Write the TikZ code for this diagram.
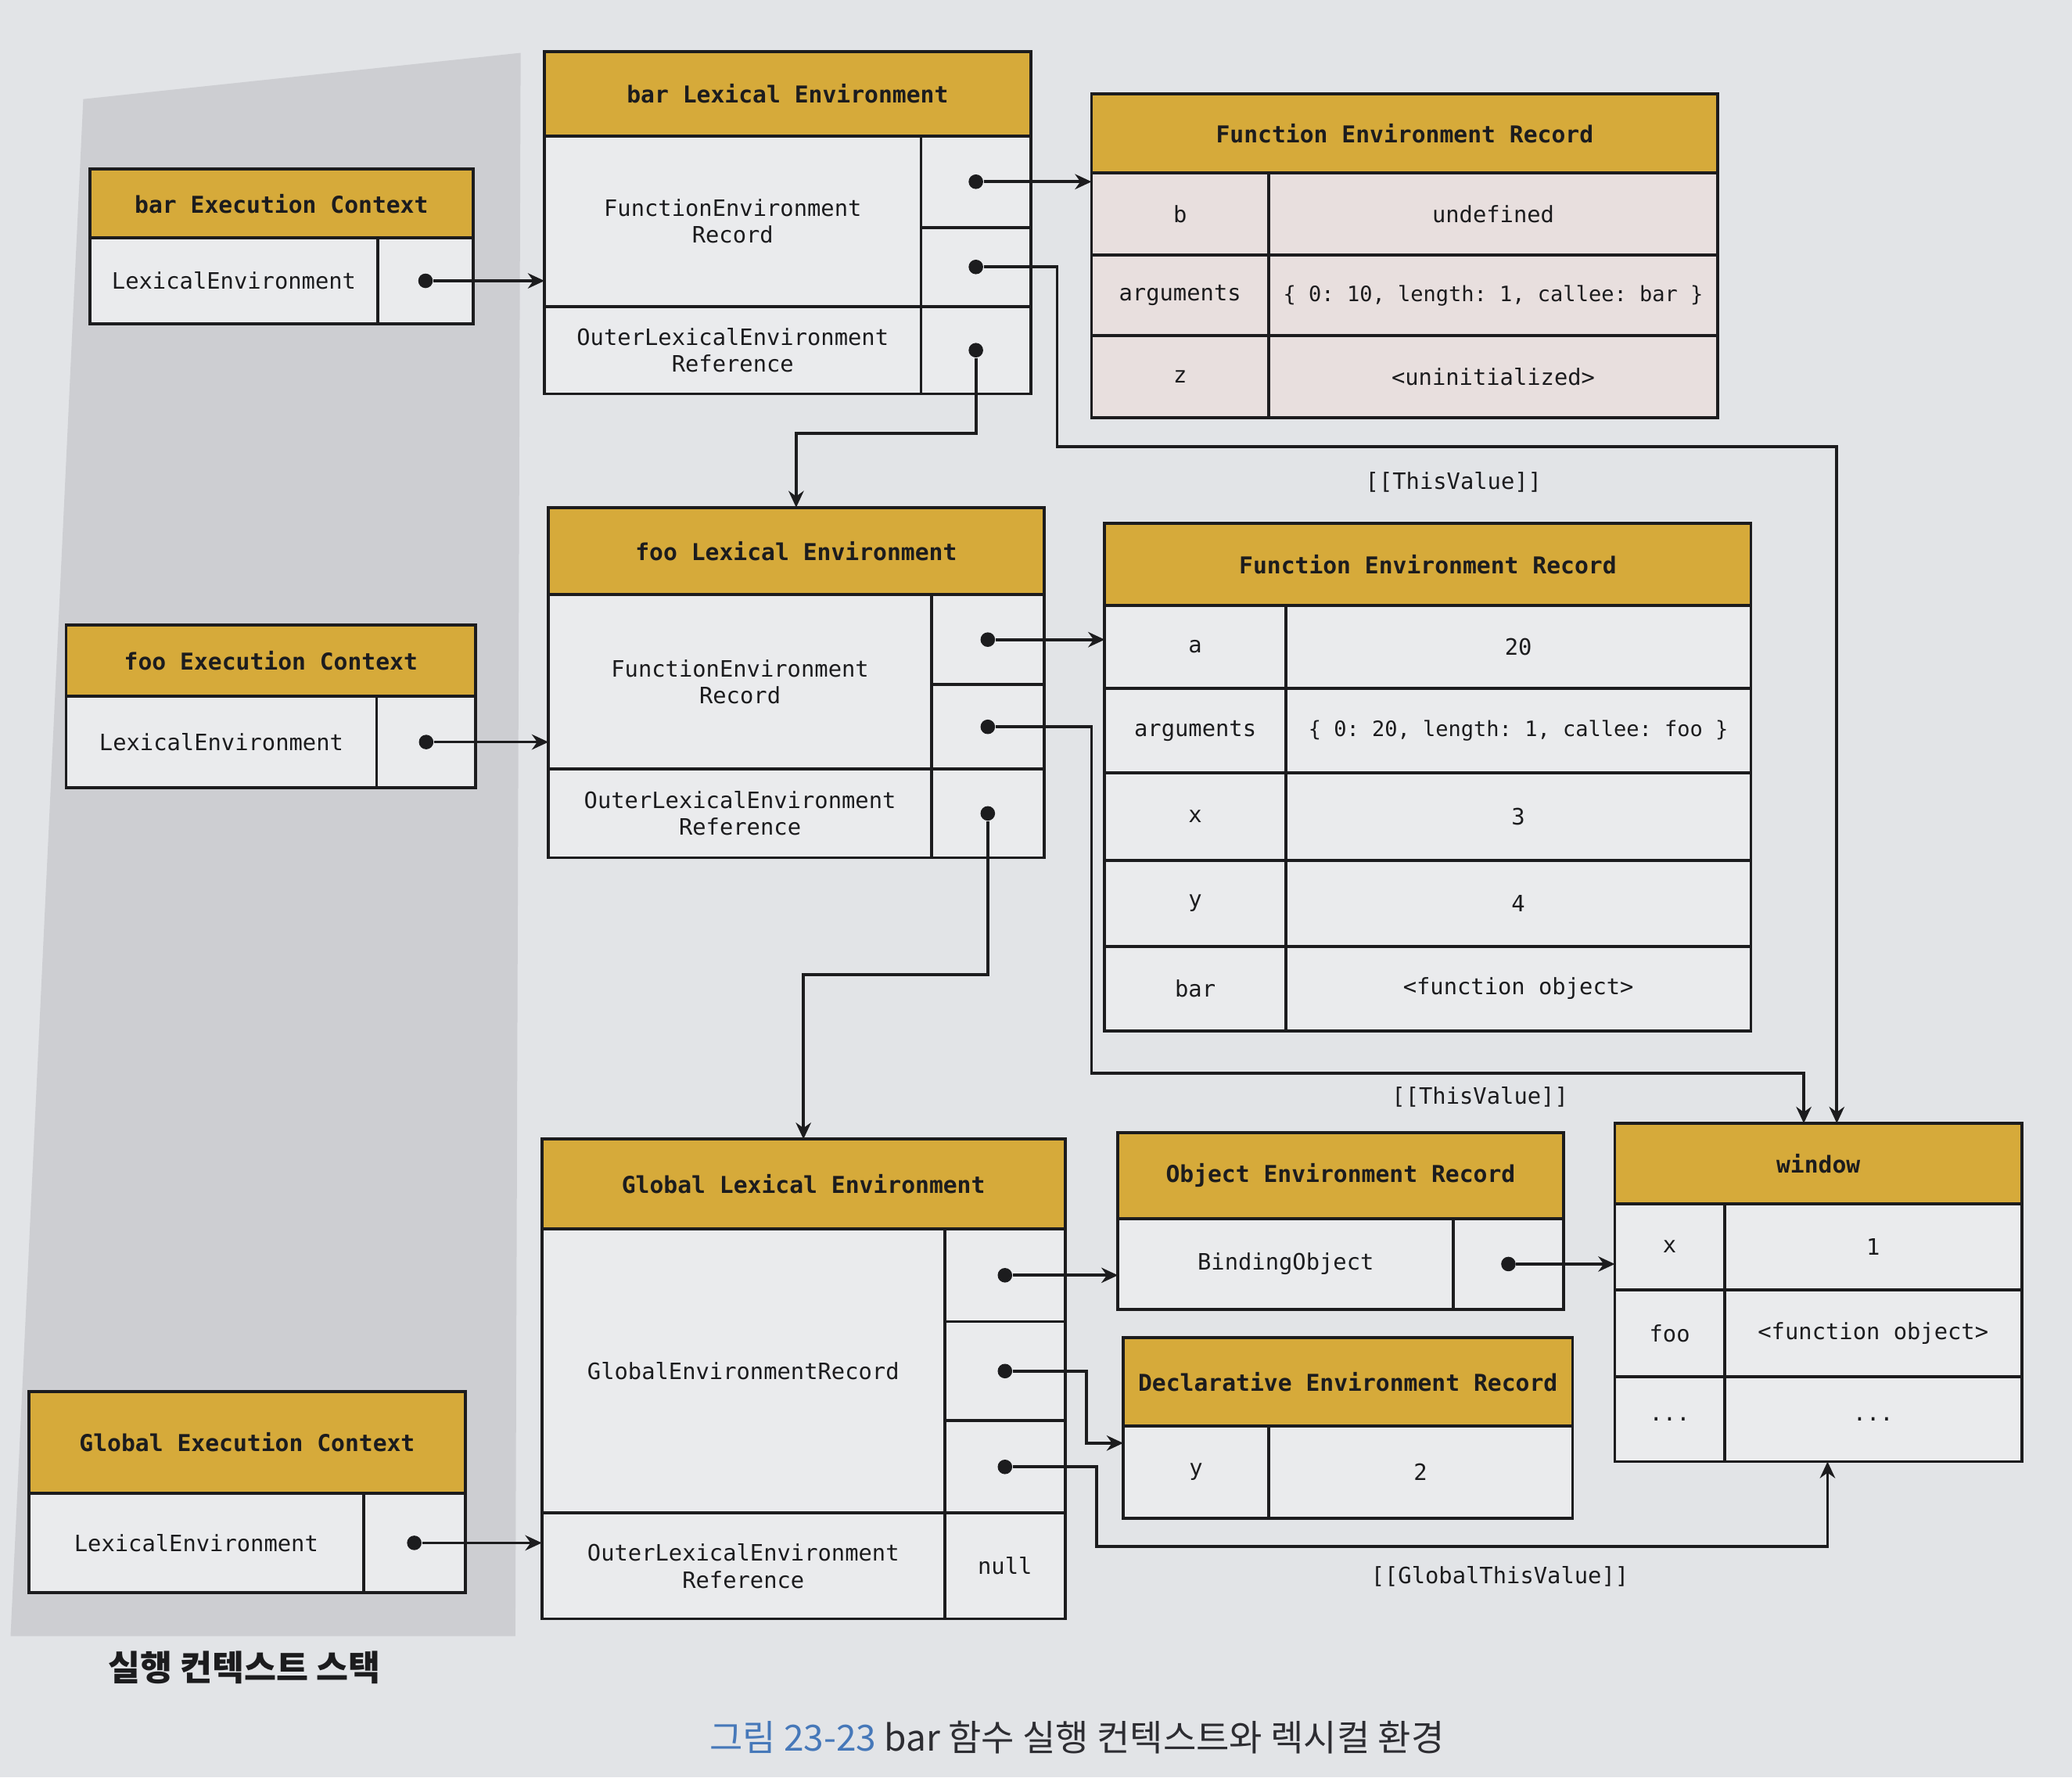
\documentclass[tikz,border=0pt]{standalone}
\usepackage{fontspec}
\setmonofont{DejaVu Sans Mono}
\newfontfamily\krfont{Noto Sans CJK KR}
\usetikzlibrary{arrows.meta}
\definecolor{ecgold}{RGB}{214,170,58}
\definecolor{ecline}{RGB}{28,28,30}
\definecolor{eccell}{RGB}{234,235,237}
\definecolor{ecpink}{RGB}{232,223,222}
\definecolor{ecpage}{RGB}{226,228,231}
\definecolor{ecstack}{RGB}{205,206,210}
\definecolor{ecblue}{RGB}{70,120,185}
\definecolor{ecdark}{RGB}{45,45,50}
\newcommand{\tcell}[7][cell]{\node[#1,minimum width={(#5-#3)*2mm},minimum height={(#6-#4)*2mm}]
  (#2) at ({(#3+#5)/2},{(#4+#6)/2}) {#7};}

\begin{document}
\begin{tikzpicture}[x=2mm,y=-2mm,
  cell/.style={draw=ecline,line width=1.3pt,fill=eccell,inner sep=0pt,outer sep=0pt,
    align=center,text=ecline,font=\ttfamily\fontsize{9.7}{11.6}\selectfont},
  pcell/.style={cell,fill=ecpink},
  argv/.style={font=\ttfamily\fontsize{9.1}{11}\selectfont},
  hdr/.style={cell,fill=ecgold,font=\ttfamily\bfseries\fontsize{10}{12}\selectfont},
  dot/.style={circle,fill=ecline,inner sep=0pt,minimum size=2.2mm},
  ptr/.style={draw=ecline,line width=1.25pt,-{Stealth[length=2.5mm,width=2.3mm]}},
  lbl/.style={text=ecline,font=\ttfamily\fontsize{9.7}{11.6}\selectfont}]
  \useasboundingbox (0,0) rectangle (156.8,134.5);
  \fill[ecpage] (0,0) rectangle (156.8,134.5);
  % Execution context stack
  \fill[ecstack] (6.3,7.5) -- (39.4,4.0) -- (39.0,123.8) -- (0.8,123.8) -- cycle;

  % bar execution context
  \tcell[hdr]{barECh}{6.8}{12.8}{35.8}{18.0}{bar Execution Context}
  \tcell{barECl}{6.8}{18.0}{28.6}{24.5}{LexicalEnvironment}
  \tcell{barECp}{28.6}{18.0}{35.8}{24.5}{}

  % bar lexical environment
  \tcell[hdr]{barLEh}{41.2}{3.9}{78.0}{10.3}{bar Lexical Environment}
  \tcell{barLEf}{41.2}{10.3}{69.7}{23.2}{FunctionEnvironment\\Record}
  \tcell{barLEf1}{69.7}{10.3}{78.0}{17.2}{}
  \tcell{barLEf2}{69.7}{17.2}{78.0}{23.2}{}
  \tcell{barLEo}{41.2}{23.2}{69.7}{29.8}{OuterLexicalEnvironment\\Reference}
  \tcell{barLEop}{69.7}{23.2}{78.0}{29.8}{}

  % function environment record of bar
  \tcell[hdr]{ferBarh}{82.6}{7.1}{130.0}{13.1}{Function Environment Record}
  \tcell[pcell]{ferBarb}{82.6}{13.1}{96.0}{19.3}{b}
  \tcell[pcell]{ferBarbv}{96.0}{13.1}{130.0}{19.3}{undefined}
  \tcell[pcell]{ferBara}{82.6}{19.3}{96.0}{25.4}{arguments}
  \tcell[pcell,argv]{ferBarav}{96.0}{19.3}{130.0}{25.4}{\{ 0: 10, length: 1, callee: bar \}}
  \tcell[pcell]{ferBarz}{82.6}{25.4}{96.0}{31.6}{z}
  \tcell[pcell]{ferBarzv}{96.0}{25.4}{130.0}{31.6}{<uninitialized>}

  % foo execution context
  \tcell[hdr]{fooECh}{5.0}{47.3}{36.0}{52.7}{foo Execution Context}
  \tcell{fooECl}{5.0}{52.7}{28.5}{59.6}{LexicalEnvironment}
  \tcell{fooECp}{28.5}{52.7}{36.0}{59.6}{}

  % foo lexical environment
  \tcell[hdr]{fooLEh}{41.5}{38.4}{79.0}{45.0}{foo Lexical Environment}
  \tcell{fooLEf}{41.5}{45.0}{70.5}{58.2}{FunctionEnvironment\\Record}
  \tcell{fooLEf1}{70.5}{45.0}{79.0}{51.8}{}
  \tcell{fooLEf2}{70.5}{51.8}{79.0}{58.2}{}
  \tcell{fooLEo}{41.5}{58.2}{70.5}{64.9}{OuterLexicalEnvironment\\Reference}
  \tcell{fooLEop}{70.5}{58.2}{79.0}{64.9}{}

  % function environment record of foo
  \tcell[hdr]{ferFooh}{83.6}{39.6}{132.5}{45.8}{Function Environment Record}
  \tcell{ferFooa}{83.6}{45.8}{97.3}{52.1}{a}
  \tcell{ferFooav}{97.3}{45.8}{132.5}{52.1}{20}
  \tcell{ferFoog}{83.6}{52.1}{97.3}{58.5}{arguments}
  \tcell[cell,argv]{ferFoogv}{97.3}{52.1}{132.5}{58.5}{\{ 0: 20, length: 1, callee: foo \}}
  \tcell{ferFoox}{83.6}{58.5}{97.3}{65.1}{x}
  \tcell{ferFooxv}{97.3}{58.5}{132.5}{65.1}{3}
  \tcell{ferFooy}{83.6}{65.1}{97.3}{71.6}{y}
  \tcell{ferFooyv}{97.3}{65.1}{132.5}{71.6}{4}
  \tcell{ferFoob}{83.6}{71.6}{97.3}{78.0}{bar}
  \tcell{ferFoobv}{97.3}{71.6}{132.5}{78.0}{<function object>}

  % global execution context
  \tcell[hdr]{globalECh}{2.2}{105.3}{35.2}{113.0}{Global Execution Context}
  \tcell{globalECl}{2.2}{113.0}{27.5}{120.5}{LexicalEnvironment}
  \tcell{globalECp}{27.5}{113.0}{35.2}{120.5}{}

  % global lexical environment
  \tcell[hdr]{globalLEh}{41.0}{86.2}{80.6}{93.0}{Global Lexical Environment}
  \tcell{globalLEg}{41.0}{93.0}{71.5}{114.5}{GlobalEnvironmentRecord}
  \tcell{globalLEg1}{71.5}{93.0}{80.6}{100.0}{}
  \tcell{globalLEg2}{71.5}{100.0}{80.6}{107.5}{}
  \tcell{globalLEg3}{71.5}{107.5}{80.6}{114.5}{}
  \tcell{globalLEo}{41.0}{114.5}{71.5}{122.5}{OuterLexicalEnvironment\\Reference}
  \tcell{globalLEn}{71.5}{114.5}{80.6}{122.5}{null}

  % object environment record
  \tcell[hdr]{objERh}{84.6}{85.7}{118.3}{92.2}{Object Environment Record}
  \tcell{objERb}{84.6}{92.2}{110.0}{99.1}{BindingObject}
  \tcell{objERp}{110.0}{92.2}{118.3}{99.1}{}

  % declarative environment record
  \tcell[hdr]{declERh}{85.0}{101.2}{119.0}{107.9}{Declarative Environment Record}
  \tcell{declERy}{85.0}{107.9}{96.0}{114.9}{y}
  \tcell{declERv}{96.0}{107.9}{119.0}{114.9}{2}

  % window
  \tcell[hdr]{windowh}{122.2}{85.0}{153.0}{91.1}{window}
  \tcell{windowx}{122.2}{91.1}{130.5}{97.6}{x}
  \tcell{windowxv}{130.5}{91.1}{153.0}{97.6}{1}
  \tcell{windowf}{122.2}{97.6}{130.5}{104.2}{foo}
  \tcell{windowfv}{130.5}{97.6}{153.0}{104.2}{<function object>}
  \tcell{windowe}{122.2}{104.2}{130.5}{110.6}{...}
  \tcell{windowev}{130.5}{104.2}{153.0}{110.6}{...}

  % Pointers
  \foreach \c in {barECp,barLEf1,barLEf2,barLEop,fooECp,fooLEf1,fooLEf2,fooLEop,
    globalECp,globalLEg1,globalLEg2,globalLEg3,objERp}
    \node[dot] (\c-dot) at (\c.center) {};
  \coordinate (winTop1) at (139.0,85.0);
  \coordinate (winTop2) at (136.5,85.0);
  \coordinate (winBot) at (138.3,110.6);
  \coordinate (declIn) at (85.0,109.2);

  \draw[ptr] (barECp-dot) -- (barECp-dot -| barLEf.west);
  \draw[ptr] (barLEf1-dot) -- (barLEf1-dot -| ferBarb.west);
  \draw[ptr] (barLEf2-dot) -| (80.0,33.8) -| (winTop1);
  \draw[ptr] (barLEop-dot) -- ++(0,6.3) -| (fooLEh.north);
  \draw[ptr] (fooECp-dot) -- (fooECp-dot -| fooLEf.west);
  \draw[ptr] (fooLEf1-dot) -- (fooLEf1-dot -| ferFooa.west);
  \draw[ptr] (fooLEf2-dot) -| (82.6,81.2) -| (winTop2);
  \draw[ptr] (fooLEop-dot) -- ++(0,12.2) -| (globalLEh.north);
  \draw[ptr] (globalECp-dot) -- (globalECp-dot -| globalLEo.west);
  \draw[ptr] (globalLEg1-dot) -- (globalLEg1-dot -| objERb.west);
  \draw[ptr] (globalLEg2-dot) -| (82.2,109.2) -- (declIn);
  \draw[ptr] (globalLEg3-dot) -| (83.0,117.0) -| (winBot);
  \draw[ptr] (objERp-dot) -- (objERp-dot -| windowx.west);

  % Labels
  \node[lbl] (thisBar) at (110.0,36.5) {[[ThisValue]]};
  \node[lbl] (thisFoo) at (112.0,83.0) {[[ThisValue]]};
  \node[lbl] (thisGlobal) at (113.5,119.3) {[[GlobalThisValue]]};
  \node[text=ecline,font=\krfont\bfseries\fontsize{15}{17}\selectfont] (stackLbl) at (18.5,126.2) {실행 컨텍스트 스택};
  \node[text=ecdark,font=\krfont\fontsize{15.5}{18}\selectfont] (figCap) at (81.5,131.5)
    {\textcolor{ecblue}{그림 23-23} bar 함수 실행 컨텍스트와 렉시컬 환경};
\end{tikzpicture}
\end{document}
